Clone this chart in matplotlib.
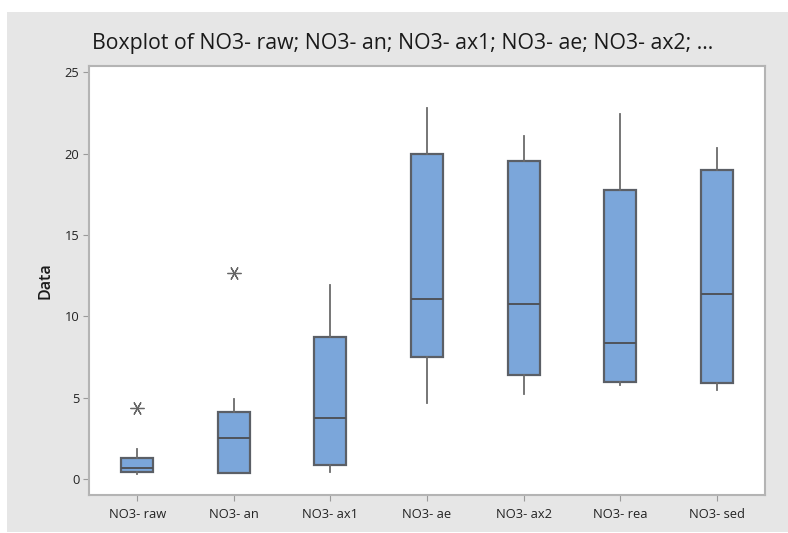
import matplotlib
matplotlib.use("Agg")
import matplotlib.pyplot as plt
from matplotlib.patches import Rectangle

# Summary statistics for each NO3- series
categories = ["NO3- raw", "NO3- an", "NO3- ax1", "NO3- ae", "NO3- ax2", "NO3- rea", "NO3- sed"]
whisker_low = [0.30, 0.39, 0.45, 4.69, 5.20, 5.77, 5.50]
q1 = [0.45, 0.39, 0.86, 7.51, 6.39, 5.94, 5.88]
median = [0.66, 2.54, 3.75, 11.04, 10.75, 8.37, 11.40]
q3 = [1.31, 4.12, 8.70, 20.00, 19.53, 17.75, 18.98]
whisker_high = [1.82, 4.91, 11.92, 22.77, 21.07, 22.46, 20.37]
outliers = [[4.34], [12.65], [], [], [], [], []]
y_ticks = [0, 5, 10, 15, 20, 25]

plt.rcParams['font.family'] = ['Open Sans', 'DejaVu Sans']

fig = plt.figure(figsize=(7.88, 5.33), dpi=100)
fig.patch.set_facecolor("white")
# grey panel behind the graph
fig.patches.append(Rectangle((7 / 788, 0.002), 1 - 7 / 788, 1 - 12 / 533 - 0.002,
                             transform=fig.transFigure, facecolor="#e6e6e6",
                             edgecolor="none", zorder=-5))

ax = fig.add_axes([89 / 788, 38 / 533, (765 - 89) / 788, (495 - 66) / 533])
ax.set_zorder(2)
ax.set_facecolor("white")

stats = []
for i, name in enumerate(categories):
    stats.append(dict(label=name, whislo=whisker_low[i], q1=q1[i], med=median[i],
                      q3=q3[i], whishi=whisker_high[i], fliers=outliers[i]))

ax.bxp(stats, positions=range(1, len(categories) + 1), widths=0.33,
       patch_artist=True, showcaps=False,
       boxprops=dict(facecolor="#7ba6da", edgecolor="#5b5f66", linewidth=1.6),
       medianprops=dict(color="#4f535a", linewidth=1.4),
       whiskerprops=dict(color="#6b6b6b", linewidth=1.3),
       flierprops=dict(marker=(6, 2, 90), markersize=10, markeredgecolor="#666666",
                       markerfacecolor="none", markeredgewidth=0.9, linestyle="none"))

ax.set_xlim(0.5, 7.5)
ax.set_ylim(-0.98, 25.38)
ax.set_yticks(y_ticks)
ax.set_yticklabels([str(t) for t in y_ticks])
ax.set_xticks(range(1, len(categories) + 1))
ax.set_xticklabels(categories)

for side in ["left", "bottom", "right", "top"]:
    ax.spines[side].set_color("#b4b4b4")
    ax.spines[side].set_linewidth(1.5)
ax.tick_params(axis="both", direction="out", length=4, width=0.8, color="#9a9a9a",
               labelsize=9.3, labelcolor="#222222")
ax.tick_params(axis="x", pad=5)
ax.tick_params(axis="y", pad=3)

ax.set_ylabel("Data", fontsize=11.5, color="#1a1a1a", labelpad=8, fontweight="semibold")
fig.text(403 / 788, 1 - 43 / 533, "Boxplot of NO3- raw; NO3- an; NO3- ax1; NO3- ae; NO3- ax2; ...",
         ha="center", va="center", fontsize=15.3, color="#1a1a1a", fontweight="medium")

fig.savefig("out.png", dpi=100, facecolor=fig.get_facecolor())
